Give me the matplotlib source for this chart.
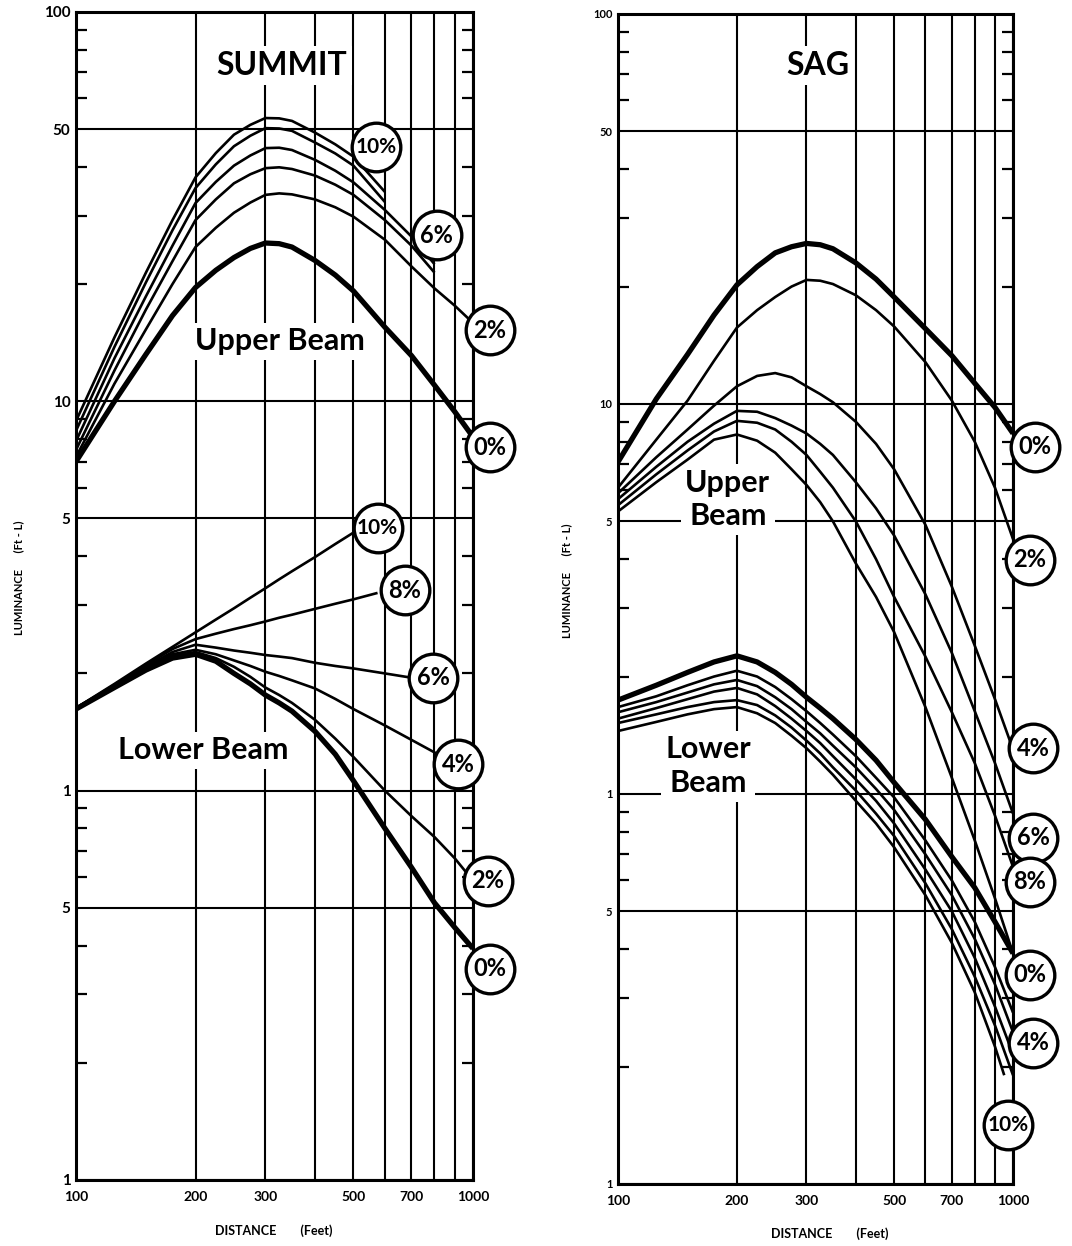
import numpy as np
import matplotlib.pyplot as plt
from matplotlib.ticker import FixedLocator, FixedFormatter, NullFormatter

plt.rcParams['font.family'] = ['Lato', 'DejaVu Sans']

# distance (feet)
dist = [100, 125, 150, 175, 200, 225, 250, 275, 300, 325, 350, 400, 450, 500,
        600, 700, 800, 900, 1000]

# SUMMIT - upper beam (ft-L)
sum_up_0 = [7.0, 10.0, 13.2, 16.6, 19.6, 21.7, 23.4, 24.7, 25.5, 25.4, 24.9, 23.0, 21.1, 19.2,
            15.5, 13.1, 11.0, 9.4, 8.1]
sum_up_2 = [7.2, 11.1, 15.3, 20.0, 24.9, 27.9, 30.5, 32.4, 33.9, 34.2, 34.0, 33.0, 31.5, 29.8,
            26.0, 22.2, 19.5, 17.6, 15.9]
sum_up_4 = [7.5, 12.0, 17.2, 22.9, 29.2, 33.0, 36.3, 38.3, 39.7, 39.9, 39.5, 38.0, 36.0, 33.9,
            29.2, 25.1, 21.4]
sum_up_6 = [7.9, 12.9, 18.6, 25.1, 32.3, 36.6, 40.3, 42.8, 44.7, 44.8, 44.2, 41.7, 39.1, 36.5,
            31.0, 26.5, 22.5]
sum_up_8 = [8.4, 13.8, 20.2, 27.5, 35.3, 40.6, 45.2, 48.1, 50.3, 50.2, 49.5, 46.2, 43.3, 40.3,
            32.5]
sum_up_10 = [8.9, 14.6, 21.4, 29.2, 37.6, 43.4, 48.4, 51.3, 53.4, 53.3, 52.5, 49.0, 45.7, 42.5,
             34.5]

# SUMMIT - lower beam
sum_lo_0 = [1.62, 1.84, 2.04, 2.19, 2.24, 2.15, 2.00, 1.88, 1.76, 1.68, 1.60, 1.42, 1.24, 1.06,
            0.80, 0.635, 0.515, 0.445, 0.393]
sum_lo_2_x = [100, 125, 150, 175, 200, 225, 250, 275, 300, 325, 350, 400, 450, 500,
              600, 700, 800, 900, 970]
sum_lo_2 = [1.62, 1.85, 2.05, 2.22, 2.27, 2.19, 2.08, 1.96, 1.84, 1.76, 1.68, 1.52, 1.36, 1.22,
            1.0, 0.86, 0.76, 0.67, 0.61]
sum_lo_4_x = [100, 125, 150, 175, 200, 225, 250, 275, 300, 325, 350, 400, 450, 500,
              600, 700, 810]
sum_lo_4 = [1.62, 1.85, 2.06, 2.24, 2.30, 2.24, 2.16, 2.09, 2.02, 1.97, 1.92, 1.83, 1.72, 1.62,
            1.47, 1.35, 1.245]
sum_lo_6_x = [100, 125, 150, 175, 200, 225, 250, 275, 300, 325, 350, 400, 450, 500, 600, 700]
sum_lo_6 = [1.63, 1.86, 2.08, 2.27, 2.37, 2.33, 2.29, 2.26, 2.23, 2.21, 2.19, 2.13, 2.09, 2.06,
            2.00, 1.95]
sum_lo_8_x = [100, 125, 150, 175, 200, 225, 250, 275, 300, 325, 350, 400, 450, 500, 575]
sum_lo_8 = [1.63, 1.87, 2.10, 2.31, 2.45, 2.53, 2.60, 2.66, 2.72, 2.78, 2.83, 2.93, 3.02, 3.10,
            3.22]
sum_lo_10_x = [100, 125, 150, 175, 200, 225, 250, 275, 300, 325, 350, 400, 450, 500]
sum_lo_10 = [1.63, 1.88, 2.12, 2.34, 2.55, 2.75, 2.94, 3.13, 3.31, 3.49, 3.66, 3.98, 4.30, 4.60]

# SAG - upper beam
sag_up_0 = [7.1, 10.3, 13.4, 16.9, 20.2, 22.5, 24.4, 25.3, 25.8, 25.6, 25.0, 23.0, 20.9, 18.8,
            15.6, 13.3, 11.3, 9.8, 8.4]
sag_up_2 = [6.1, 8.1, 10.2, 12.9, 15.7, 17.4, 18.8, 20.0, 20.8, 20.7, 20.3, 19.0, 17.4, 15.8,
            12.8, 10.2, 8.0, 6.1, 4.5]
sag_up_4 = [5.9, 7.3, 8.6, 9.9, 11.1, 11.8, 12.0, 11.7, 11.1, 10.6, 10.1, 9.0, 7.9, 6.8,
            4.9, 3.4, 2.4, 1.75, 1.3]
sag_up_6 = [5.7, 6.9, 8.0, 8.9, 9.6, 9.55, 9.2, 8.8, 8.4, 7.9, 7.4, 6.3, 5.4, 4.6,
            3.25, 2.3, 1.63, 1.2, 0.89]
sag_up_8 = [5.5, 6.6, 7.6, 8.5, 9.05, 8.95, 8.6, 8.0, 7.4, 6.7, 6.1, 5.0, 4.0, 3.2,
            2.25, 1.62, 1.2, 0.88, 0.65]
sag_up_10 = [5.3, 6.3, 7.2, 8.1, 8.35, 8.05, 7.5, 6.8, 6.2, 5.6, 5.0, 3.9, 3.2, 2.6,
             1.67, 1.1, 0.76, 0.54, 0.39]

# SAG - lower beam
sag_lo_0 = [1.74, 1.90, 2.05, 2.18, 2.26, 2.18, 2.05, 1.91, 1.77, 1.66, 1.56, 1.38, 1.22, 1.07,
            0.86, 0.69, 0.575, 0.47, 0.39]
sag_lo_2 = [1.67, 1.78, 1.90, 2.00, 2.07, 2.00, 1.88, 1.75, 1.63, 1.52, 1.42, 1.25, 1.10, 0.98,
            0.76, 0.60, 0.47, 0.36, 0.275]
sag_lo_4 = [1.62, 1.72, 1.82, 1.91, 1.96, 1.89, 1.77, 1.65, 1.53, 1.43, 1.33, 1.17, 1.03, 0.91,
            0.70, 0.55, 0.425, 0.325, 0.245]
sag_lo_6 = [1.56, 1.66, 1.75, 1.83, 1.87, 1.80, 1.68, 1.56, 1.45, 1.35, 1.25, 1.09, 0.96, 0.84,
            0.64, 0.50, 0.38, 0.285, 0.215]
sag_lo_8 = [1.52, 1.60, 1.67, 1.72, 1.74, 1.69, 1.59, 1.48, 1.37, 1.27, 1.17, 1.02, 0.89, 0.78,
            0.59, 0.45, 0.34, 0.255, 0.19]
sag_lo_10_x = [100, 125, 150, 175, 200, 225, 250, 275, 300, 325, 350, 400, 450, 500,
               600, 700, 800, 900, 950]
sag_lo_10 = [1.45, 1.53, 1.60, 1.65, 1.67, 1.61, 1.52, 1.41, 1.31, 1.21, 1.12, 0.96, 0.84, 0.73,
             0.55, 0.415, 0.31, 0.225, 0.19]

ytick_vals = [0.1, 0.5, 1, 5, 10, 50, 100]
ytick_labels = ['1', '5', '1', '5', '10', '50', '100']
xtick_vals = [100, 200, 300, 500, 700, 1000]
xtick_labels = ['100', '200', '300', '500', '700', '1000']

THICK = 3.8
THIN = 1.9

fig = plt.figure(figsize=(10.72, 12.46), dpi=100)
ax1 = fig.add_axes([0.0709, 0.053, 0.3703, 0.9374])
ax2 = fig.add_axes([0.5765, 0.0498, 0.3685, 0.939])


def style_axes(ax, lab_size):
    ax.set_xscale('log')
    ax.set_yscale('log')
    ax.set_xlim(100, 1000)
    ax.set_ylim(0.1, 100)
    ax.yaxis.set_major_locator(FixedLocator(ytick_vals))
    ax.yaxis.set_major_formatter(FixedFormatter(ytick_labels))
    minor_y = [m * 10.0 ** e for e in (-1, 0, 1) for m in (2, 3, 4, 6, 7, 8, 9)]
    ax.yaxis.set_minor_locator(FixedLocator(minor_y))
    ax.yaxis.set_minor_formatter(NullFormatter())
    ax.xaxis.set_major_locator(FixedLocator(xtick_vals))
    ax.xaxis.set_major_formatter(FixedFormatter(xtick_labels))
    ax.xaxis.set_minor_locator(FixedLocator([200, 300, 400, 500, 600, 700, 800, 900]))
    ax.xaxis.set_minor_formatter(NullFormatter())
    ax.tick_params(axis='y', which='major', length=0, pad=4, labelsize=lab_size)
    ax.tick_params(axis='y', which='minor', direction='in', length=8, width=1.6,
                   left=True, right=True)
    ax.tick_params(axis='x', which='both', length=0, pad=8, labelsize=10)
    for lab in ax.get_xticklabels() + ax.get_yticklabels():
        lab.set_fontweight('bold')
    ax.grid(True, which='major', axis='y', color='black', lw=1.5)
    ax.grid(True, which='both', axis='x', color='black', lw=1.5)
    for sp in ax.spines.values():
        sp.set_linewidth(2.2)


def draw(ax, xs, ys, thick=False):
    ax.plot(xs, ys, color='black', lw=THICK if thick else THIN,
            solid_capstyle='butt', solid_joinstyle='round', zorder=4)


def badge(ax, x, y, s):
    ax.plot([x], [y], 'o', ms=35, mfc='white', mec='black', mew=2.4,
            zorder=6, clip_on=False)
    ax.text(x, y, s, ha='center', va='center', fontsize=15 if len(s) > 2 else 17,
            fontweight='bold', zorder=7, clip_on=False)


def word(ax, x, y, s, size=22, ls=1.2):
    ax.text(x, y, s, transform=ax.transAxes, ha='center', va='center',
            fontsize=size, fontweight='bold', linespacing=ls, zorder=3,
            bbox=dict(boxstyle='square,pad=0.15', fc='white', ec='none'))


# ---- SUMMIT ----
style_axes(ax1, 11)
draw(ax1, dist, sum_up_0, True)
draw(ax1, dist, sum_up_2)
draw(ax1, dist[:17], sum_up_4)
draw(ax1, dist[:17], sum_up_6)
draw(ax1, dist[:15], sum_up_8)
draw(ax1, dist[:15], sum_up_10)
draw(ax1, dist, sum_lo_0, True)
draw(ax1, sum_lo_2_x, sum_lo_2)
draw(ax1, sum_lo_4_x, sum_lo_4)
draw(ax1, sum_lo_6_x, sum_lo_6)
draw(ax1, sum_lo_8_x, sum_lo_8)
draw(ax1, sum_lo_10_x, sum_lo_10)

word(ax1, 0.519, 0.954, 'SUMMIT', 23)
word(ax1, 0.514, 0.718, 'Upper Beam')
word(ax1, 0.32, 0.368, 'Lower Beam')

for x, y, s in [(570, 45.0, '10%'), (811, 26.7, '6%'), (1104, 15.2, '2%'),
                (1104, 7.62, '0%'), (575, 4.74, '10%'), (674, 3.27, '8%'),
                (793, 1.95, '6%'), (917, 1.17, '4%'), (1091, 0.587, '2%'),
                (1104, 0.349, '0%')]:
    badge(ax1, x, y, s)

# ---- SAG ----
style_axes(ax2, 8)
draw(ax2, dist, sag_up_0, True)
draw(ax2, dist, sag_up_2)
draw(ax2, dist, sag_up_4)
draw(ax2, dist, sag_up_6)
draw(ax2, dist, sag_up_8)
draw(ax2, dist, sag_up_10)
draw(ax2, dist, sag_lo_0, True)
draw(ax2, dist, sag_lo_2)
draw(ax2, dist, sag_lo_4)
draw(ax2, dist, sag_lo_6)
draw(ax2, dist, sag_lo_8)
draw(ax2, sag_lo_10_x, sag_lo_10)

word(ax2, 0.506, 0.956, 'SAG', 23)
word(ax2, 0.278, 0.585, 'Upper\nBeam', 22, 1.25)
word(ax2, 0.228, 0.357, 'Lower\nBeam', 22, 1.25)

for x, y, s in [(1137, 7.76, '0%'), (1104, 3.98, '2%'), (1124, 1.31, '4%'),
                (1124, 0.771, '6%'), (1104, 0.595, '8%'), (1104, 0.3435, '0%'),
                (1124, 0.230, '4%'), (971, 0.1416, '10%')]:
    badge(ax2, x, y, s)

# axis titles
fig.text(0.017, 0.536, 'LUMINANCE      (Ft - L)', rotation=90, ha='center',
         va='center', fontsize=8, fontweight='bold')
fig.text(0.529, 0.534, 'LUMINANCE      (Ft - L)', rotation=90, ha='center',
         va='center', fontsize=8, fontweight='bold')
fig.text(0.255, 0.012, 'DISTANCE        (Feet)', ha='center', va='center',
         fontsize=9, fontweight='bold')
fig.text(0.774, 0.0096, 'DISTANCE        (Feet)', ha='center', va='center',
         fontsize=9, fontweight='bold')

fig.savefig('out.png', dpi=100)
